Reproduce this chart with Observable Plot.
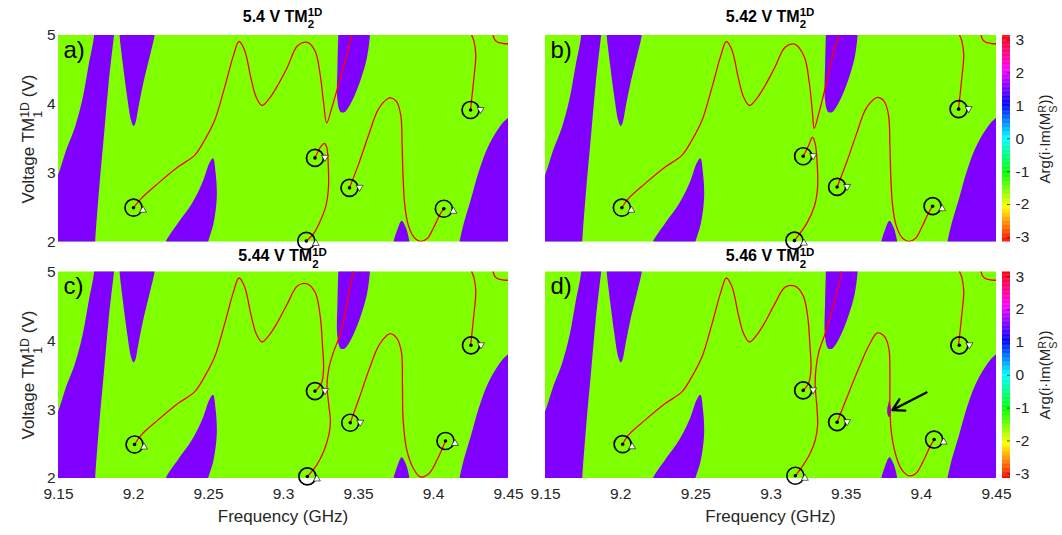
<!DOCTYPE html>
<html>
<head>
<meta charset="utf-8">
<script src="https://cdn.jsdelivr.net/npm/d3@7"></script>
<script src="https://cdn.jsdelivr.net/npm/@observablehq/plot@0.6"></script>
<style>
  html, body { margin: 0; padding: 0; background: #fff; }
  #fig { position: relative; width: 1062px; height: 535px; overflow: hidden; font-family: "Liberation Sans", Arial, Helvetica, sans-serif; color: #262626; }
  #fig > svg { position: absolute; }
  .lbl { position: absolute; white-space: nowrap; line-height: 1; transform: translate(-50%, -50%); }
  .rot { transform: translate(-50%, -50%) rotate(-90deg); }
  .ss { position: relative; display: inline-block; height: 0; font-size: 0.72em; vertical-align: baseline; }
  .ss .sp { position: absolute; left: 0; bottom: 0.25em; line-height: 1; }
  .ss .sb { position: absolute; left: 0; top: -0.2em; line-height: 1; }
</style>
</head>
<body>
<div id="fig"></div>
<script>
// ---------------- data ----------------
const PI = Math.PI;
const frequencyTicks = [9.15, 9.2, 9.25, 9.3, 9.35, 9.4, 9.45];
const voltageTicks = [2, 3, 4, 5];
const phaseTicks = [-3, -2, -1, 0, 1, 2, 3];
const panelLetters = ["a)", "b)", "c)", "d)"];
const panelVoltages = ["5.4 V", "5.42 V", "5.44 V", "5.46 V"];
const backgroundPhase = -PI / 2;   // green
const regionPhase = PI / 2;        // purple

// purple regions [frequency, voltage]
const leftStripe = [[9.1745,1.9],[9.1745,2.0],[9.1772,2.8],[9.1800,3.475],[9.1834,4.3],[9.1870,5.0],[9.1875,5.1],[9.1735,5.1],[9.1737,5.0],[9.1700,4.56],[9.1660,4.08],[9.1609,3.665],[9.1550,3.33],[9.1500,2.99],[9.1450,2.75],[9.1450,1.9]];
const topTongueA = [[9.1905,5.1],[9.1907,5.0],[9.1929,4.587],[9.1958,4.104],[9.1984,3.766],[9.2000,3.684],[9.2011,3.717],[9.2033,3.959],[9.2069,4.345],[9.2107,4.684],[9.2140,5.0],[9.2142,5.1]];
const bottomLobeA = [[9.2205,1.9],[9.2214,2.0],[9.2298,2.28],[9.2392,2.57],[9.2465,2.895],[9.2504,3.135],[9.2530,3.215],[9.2548,2.99],[9.2555,2.64],[9.2532,2.255],[9.2497,2.0],[9.2490,1.9]];
const topTongueB = [[9.3366,5.1],[9.3365,5.0],[9.3360,4.577],[9.3358,4.094],[9.3376,3.901],[9.3393,3.880],[9.3411,3.893],[9.3456,4.046],[9.3511,4.336],[9.3556,4.674],[9.3576,5.0],[9.3578,5.1]];
const bottomLobeB = [[9.3725,1.9],[9.3733,2.0],[9.3756,2.162],[9.3788,2.31],[9.3816,2.21],[9.3840,2.0],[9.3845,1.9]];
const rightRegion = [[9.46,3.9],[9.45,3.812],[9.4431,3.643],[9.4362,3.377],[9.4304,3.039],[9.4247,2.604],[9.4201,2.266],[9.4173,2.0],[9.4165,1.9],[9.46,1.9]];
const smallSpotD = [[9.3786,3.14],[9.3793,3.07],[9.3799,3.0],[9.3796,2.93],[9.3786,2.89],[9.3776,2.93],[9.3773,3.0],[9.3779,3.07]];

// red curves [frequency, voltage]
const humpCommon = [[9.2051,2.63],[9.2162,2.848],[9.2296,3.089],[9.2407,3.258],[9.2473,3.476],[9.2540,3.76],[9.2608,4.25],[9.2665,4.70],[9.2703,4.913],[9.2740,4.79],[9.2784,4.37],[9.2818,4.104],[9.2857,3.983],[9.2907,4.09],[9.2960,4.27],[9.3025,4.536]];
const humpTailA = [[9.3094,4.850],[9.3160,4.899],[9.3211,4.771],[9.3244,4.44],[9.3267,4.03],[9.3288,3.728],[9.3322,3.949],[9.3367,4.288],[9.3411,4.626],[9.3454,5.0],[9.3458,5.05]];
const humpTailB = [[9.3094,4.83],[9.3156,4.874],[9.3220,4.70],[9.3255,4.31],[9.3276,3.87],[9.3287,3.65],[9.3317,3.86],[9.3372,4.34],[9.3418,4.78],[9.3450,5.0],[9.3453,5.05]];
const humpTailC = [[9.3094,4.80],[9.3152,4.831],[9.3210,4.71],[9.3244,4.371],[9.3260,3.935],[9.3267,3.597],[9.3256,3.403],[9.3228,3.306],[9.3210,3.268]];
const humpTailD = [[9.3094,4.78],[9.3156,4.797],[9.3213,4.661],[9.3243,4.371],[9.3259,3.935],[9.3266,3.597],[9.3253,3.403],[9.3230,3.316],[9.3214,3.282]];
const loopA = [[9.3210,3.222],[9.3250,3.39],[9.3273,3.432],[9.3289,3.37],[9.3299,3.08],[9.3300,2.80],[9.3282,2.52],[9.3240,2.28],[9.3200,2.12],[9.3152,2.015]];
const loopB = [[9.3214,3.246],[9.3248,3.39],[9.3276,3.522],[9.3294,3.43],[9.3306,3.184],[9.3310,2.797],[9.3290,2.531],[9.3237,2.266],[9.3191,2.121],[9.3156,2.02]];
const descentC = [[9.3463,5.05],[9.3463,5.0],[9.3429,4.613],[9.3383,4.129],[9.3330,3.815],[9.3302,3.597],[9.3290,3.355],[9.3302,3.065],[9.3313,2.823],[9.3302,2.629],[9.3267,2.387],[9.3221,2.194],[9.3159,2.029]];
const descentD = [[9.3467,5.05],[9.3467,5.0],[9.3421,4.565],[9.3364,4.129],[9.3318,3.839],[9.3299,3.597],[9.3294,3.355],[9.3306,3.016],[9.3310,2.774],[9.3294,2.556],[9.3260,2.363],[9.3214,2.194],[9.3162,2.039]];
const valleyA = [[9.3440,2.787],[9.3500,3.128],[9.3567,3.55],[9.3630,3.92],[9.3689,4.075],[9.3715,4.095],[9.3754,4.04],[9.3782,3.84],[9.3791,3.40],[9.3797,2.95],[9.3808,2.55],[9.3830,2.26],[9.3868,2.075],[9.3912,2.01],[9.3958,2.05],[9.4002,2.215],[9.4044,2.404],[9.4069,2.483]];
const valleyB = [[9.3440,2.80],[9.3500,3.14],[9.3567,3.56],[9.3630,3.93],[9.3689,4.08],[9.3712,4.10],[9.3754,4.04],[9.3782,3.84],[9.3791,3.40],[9.3797,2.95],[9.3808,2.55],[9.3830,2.26],[9.3868,2.075],[9.3915,2.01],[9.3960,2.05],[9.4005,2.225],[9.4045,2.41],[9.4075,2.52]];
const valleyC = [[9.3445,2.81],[9.3502,3.15],[9.3570,3.58],[9.3635,3.93],[9.3690,4.08],[9.3712,4.105],[9.3755,4.04],[9.3786,3.839],[9.3793,3.355],[9.3797,2.871],[9.3820,2.435],[9.3866,2.145],[9.3912,2.024],[9.3970,2.073],[9.4028,2.29],[9.4080,2.545]];
const valleyD = [[9.3440,2.818],[9.3502,3.161],[9.3583,3.597],[9.3652,3.935],[9.3708,4.115],[9.3756,4.06],[9.3784,3.887],[9.3791,3.5],[9.3791,3.016],[9.3803,2.629],[9.3837,2.29],[9.3872,2.121],[9.3918,2.039],[9.3964,2.073],[9.4010,2.242],[9.4057,2.46],[9.4085,2.566]];
const riseRight = [[9.4247,3.925],[9.4267,4.336],[9.4282,4.722],[9.4270,4.916],[9.4256,5.0],[9.4252,5.05]];
const cornerArc = [[9.4396,5.05],[9.4398,5.0],[9.4408,4.94],[9.4431,4.9],[9.4465,4.884],[9.4520,4.88]];

// singular points [frequency, voltage, winding arrow]
const pointsA = [[9.2000,2.498,"up"],[9.3152,2.015,"up"],[9.3210,3.222,"down"],[9.3440,2.787,"down"],[9.4069,2.483,"up"],[9.4247,3.918,"down"]];
const pointsB = [[9.2008,2.498,"up"],[9.3156,2.020,"up"],[9.3214,3.246,"down"],[9.3440,2.800,"down"],[9.4075,2.520,"up"],[9.4248,3.930,"down"]];
const pointsC = [[9.2007,2.494,"up"],[9.3159,2.030,"up"],[9.3210,3.270,"down"],[9.3445,2.810,"down"],[9.4080,2.545,"up"],[9.4250,3.935,"down"]];
const pointsD = [[9.2013,2.498,"up"],[9.3162,2.040,"up"],[9.3214,3.280,"down"],[9.3440,2.818,"down"],[9.4085,2.566,"up"],[9.4253,3.935,"down"]];
// annotation arrow in d) [from f, from V, to f, to V]
const arrowD = [[9.4034,3.25,9.3808,2.995]];

// ---------------- drawing ----------------
const hsv = t => d3.hsl(t * 360, 1, 0.5).toString();
const fontFamily = '"Liberation Sans", Arial, Helvetica, sans-serif';
const fig = document.getElementById("fig");
const baseRegions = [leftStripe, topTongueA, bottomLobeA, topTongueB, bottomLobeB, rightRegion];

function panel({regions, curves, points, arrows, letter, showX, showY, width, height, mL, mR, mT, mB}) {
  const regionRows = regions.flatMap((pts, i) => pts.map(([f, v]) => ({id: i, f, v, phase: regionPhase})));
  const curveRows = curves.flatMap((pts, i) => pts.map(([f, v]) => ({id: i, f, v})));
  const pointRows = points.map(([f, v, dir]) => ({f, v, dir}));
  const bg = [{f1: 9.15, f2: 9.45, v1: 2, v2: 5, phase: backgroundPhase}];
  const marks = [
    Plot.rect(bg, {x1: "f1", x2: "f2", y1: "v1", y2: "v2", fill: "phase"}),
    Plot.line(regionRows, {x: "f", y: "v", z: "id", fill: "phase", stroke: "none", curve: "catmull-rom", clip: true}),
    Plot.line(curveRows, {x: "f", y: "v", z: "id", stroke: "#ff0000", strokeWidth: 1.3, curve: "catmull-rom", clip: true}),
    Plot.dot(pointRows, {x: "f", y: "v", r: 8.5, stroke: "#000", strokeWidth: 1.7, fill: "none"}),
    Plot.dot(pointRows, {x: "f", y: "v", r: 1.8, fill: "#000"}),
    Plot.dot(pointRows.filter(d => d.dir === "up"), {x: "f", y: "v", symbol: "triangle", r: 2.6, fill: "white", stroke: "#000", strokeWidth: 0.6, dx: 9.5, dy: 2.5}),
    Plot.dot(pointRows.filter(d => d.dir === "down"), {x: "f", y: "v", symbol: "triangle", rotate: 180, r: 2.6, fill: "white", stroke: "#000", strokeWidth: 0.6, dx: 10, dy: -0.5}),
    Plot.text([letter], {frameAnchor: "top-left", text: d => d, dx: 5, dy: 5, fontSize: 24, fill: "#000", lineAnchor: "top", textAnchor: "start"})
  ];
  if (arrows) marks.push(Plot.arrow(arrows, {x1: d => d[0], y1: d => d[1], x2: d => d[2], y2: d => d[3], stroke: "#000", strokeWidth: 2.4, headLength: 10}));
  return Plot.plot({
    width, height, marginLeft: mL, marginRight: mR, marginTop: mT, marginBottom: mB,
    style: {fontFamily, fontSize: "15.5px", color: "#262626", background: "transparent", overflow: "visible"},
    x: {domain: [9.15, 9.45], ticks: frequencyTicks, tickFormat: d => String(+d.toFixed(2)), tickSize: 0, tickPadding: 9, label: null, axis: showX ? "bottom" : null},
    y: {domain: [2, 5], ticks: voltageTicks, tickFormat: d => String(d), tickSize: 0, tickPadding: 3, label: null, axis: showY ? "left" : null},
    color: {type: "linear", domain: [-PI, PI], interpolate: hsv},
    marks
  });
}

function colorbar({height, mT, mB}) {
  const N = 256, step = 2 * PI / N;
  return Plot.plot({
    width: 66, height, marginLeft: 6, marginRight: 52, marginTop: mT, marginBottom: mB,
    style: {fontFamily, fontSize: "15.5px", color: "#262626", background: "transparent", overflow: "visible"},
    x: {domain: [0, 1], axis: null},
    y: {domain: [-PI, PI], ticks: phaseTicks, tickFormat: d => String(d), tickSize: 0, tickPadding: 5, axis: "right", label: null},
    color: {type: "linear", domain: [-PI, PI], interpolate: hsv},
    marks: [
      Plot.rect(d3.range(N), {x1: 0, x2: 1, y1: i => -PI + i * step, y2: i => Math.min(PI, -PI + (i + 1) * step + 0.01), fill: i => -PI + (i + 0.5) * step}),
      Plot.tickY(phaseTicks, {y: d => d, stroke: "#262626", strokeWidth: 0.8, insetLeft: 5})
    ]
  });
}

function place(el, left, top) {
  el.style.left = left + "px";
  el.style.top = top + "px";
  fig.appendChild(el);
}
function label(html, x, y, extra = {}, cls = "") {
  const d = document.createElement("div");
  d.className = "lbl " + cls;
  d.innerHTML = html;
  d.style.left = x + "px";
  d.style.top = y + "px";
  Object.assign(d.style, extra);
  fig.appendChild(d);
}

const colL = {x: 0, width: 530, mL: 58, mR: 22, cx: 283};
const colR = {x: 530, width: 532, mL: 15, mR: 66, cx: 770.5};
const rowT = {y: 0, height: 250, mT: 35, mB: 8.5, cy: 138.5, ty: 16.7};
const rowB = {y: 250, height: 285, mT: 21.5, mB: 57, cy: 375, ty: 256.3};

const panels = [
  {col: colL, row: rowT, regions: baseRegions, curves: [[pointsA[0], ...humpCommon, ...humpTailA], loopA, valleyA, riseRight, cornerArc], points: pointsA, showX: false, showY: true},
  {col: colR, row: rowT, regions: baseRegions, curves: [[pointsB[0], ...humpCommon, ...humpTailB], loopB, valleyB, riseRight, cornerArc], points: pointsB, showX: false, showY: false},
  {col: colL, row: rowB, regions: baseRegions, curves: [[pointsC[0], ...humpCommon, ...humpTailC], descentC, valleyC, riseRight, cornerArc], points: pointsC, showX: true, showY: true},
  {col: colR, row: rowB, regions: [...baseRegions, smallSpotD], curves: [[pointsD[0], ...humpCommon, ...humpTailD], descentD, valleyD, riseRight, cornerArc], points: pointsD, arrows: arrowD, showX: true, showY: false}
];

const tm = (sup, sub, w) => `<span class="ss" style="width:${w}em"><span class="sp">${sup}</span><span class="sb">${sub}</span></span>`;

panels.forEach((p, i) => {
  const svg = panel({
    regions: p.regions, curves: p.curves, points: p.points, arrows: p.arrows,
    letter: panelLetters[i], showX: p.showX, showY: p.showY,
    width: p.col.width, height: p.row.height,
    mL: p.col.mL, mR: p.col.mR, mT: p.row.mT, mB: p.row.mB
  });
  place(svg, p.col.x, p.row.y);
  label(`<b>${panelVoltages[i]} TM${tm("1D", "2", 1.35)}</b>`, p.col.cx, p.row.ty, {fontSize: "16px", color: "#000"});
  if (p.showY) label(`Voltage TM${tm("1D", "1", 1.3)} (V)`, 27.5, p.row.cy, {fontSize: "17px"}, "rot");
  if (p.showX) label("Frequency (GHz)", p.col.cx, 515.5, {fontSize: "17px"});
});

[rowT, rowB].forEach(row => {
  place(colorbar({height: row.height, mT: row.mT, mB: row.mB}), 996, row.y);
  label(`Arg(i·Im(M${tm("R", "S", 0.75)}))`, 1044, row.cy, {fontSize: "15px"}, "rot");
});
</script>
</body>
</html>
